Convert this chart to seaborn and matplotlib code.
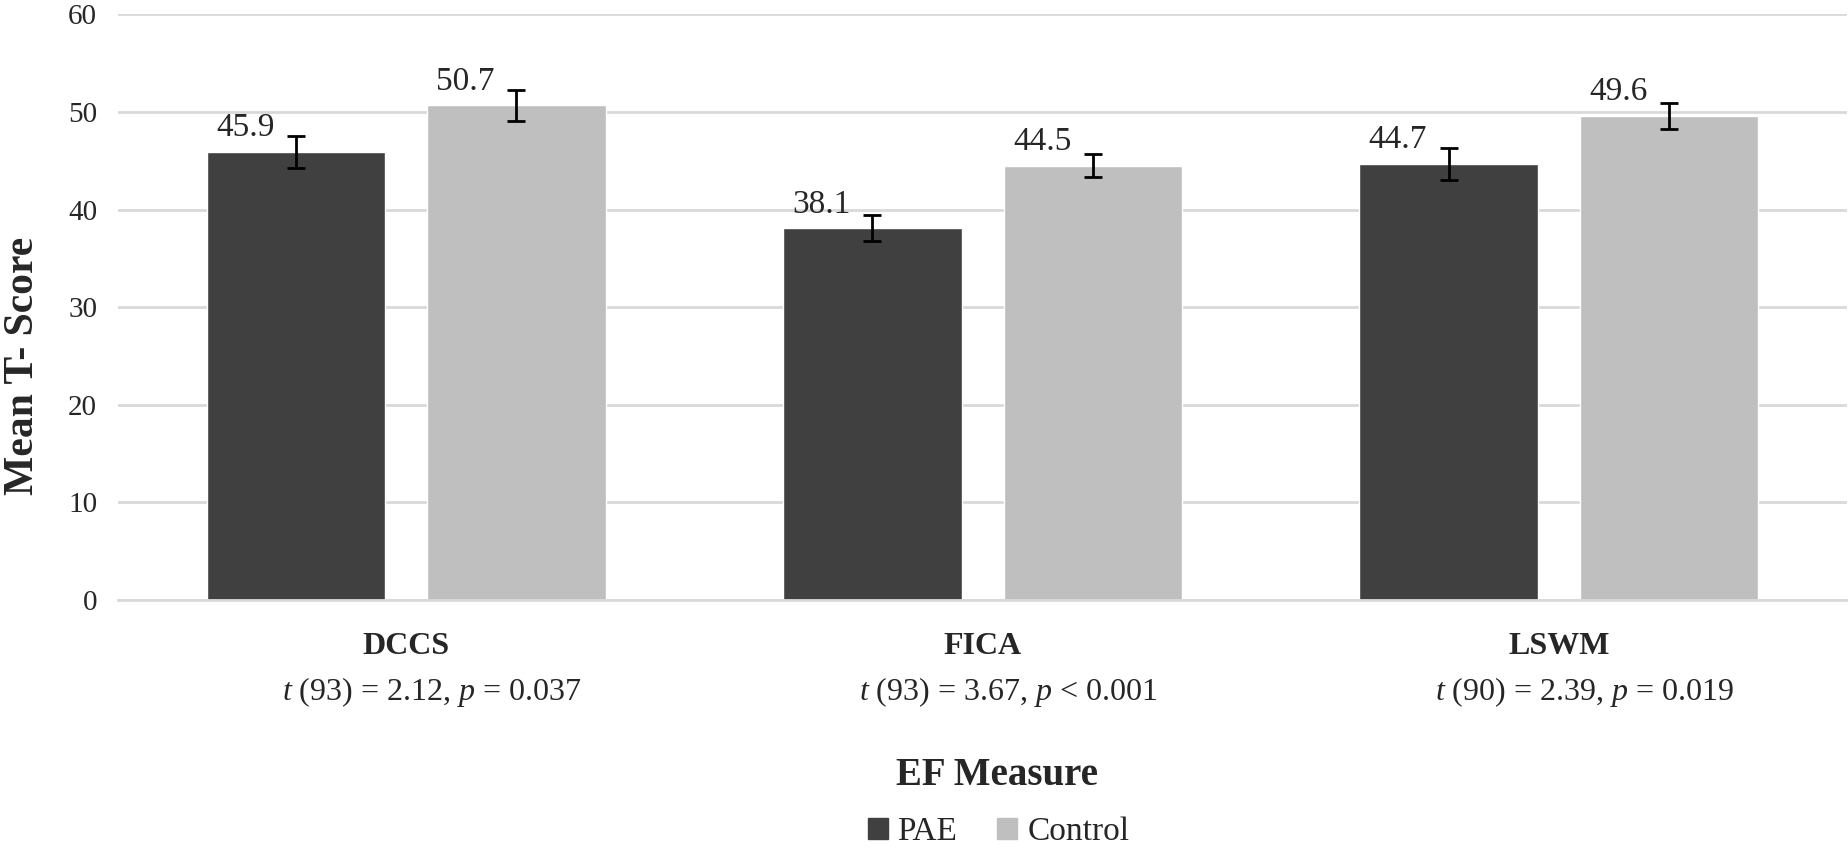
import matplotlib
matplotlib.use("Agg")
import matplotlib.pyplot as plt
import numpy as np
import pandas as pd
import seaborn as sns

# data
measures = ['DCCS', 'FICA', 'LSWM']
groups = ['PAE', 'Control']
pae_means = [45.9, 38.1, 44.7]
control_means = [50.7, 44.5, 49.6]
pae_err = [1.65, 1.3, 1.65]
control_err = [1.6, 1.2, 1.3]
t_stats = ['$t$ (93) = 2.12, $p$ = 0.037',
           '$t$ (93) = 3.67, $p$ < 0.001',
           '$t$ (90) = 2.39, $p$ = 0.019']
yticks = [0, 10, 20, 30, 40, 50, 60]

colors = {'PAE': '#404040', 'Control': '#bfbfbf'}

df = pd.DataFrame({
    'measure': measures * 2,
    'group': ['PAE'] * 3 + ['Control'] * 3,
    'score': pae_means + control_means,
    'err': pae_err + control_err,
})

sns.set_style('white')
plt.rcParams['font.family'] = ['Liberation Serif', 'DejaVu Serif']
plt.rcParams['mathtext.fontset'] = 'custom'
plt.rcParams['mathtext.rm'] = 'Liberation Serif'
plt.rcParams['mathtext.it'] = 'Liberation Serif:italic'

fig = plt.figure(figsize=(18.49, 8.48), dpi=100)
ax = fig.add_axes([0.0638, 0.2925, 0.9352, 0.6905])

sns.barplot(data=df, x='measure', y='score', hue='group', palette=colors,
            width=0.765, gap=0.19, errorbar=None, saturation=1, ax=ax,
            legend=False, zorder=2)

# error bars and value labels
for cont, g in zip(ax.containers, groups):
    sub = df[df['group'] == g]
    for bar, val, err in zip(cont, sub['score'], sub['err']):
        xc = bar.get_x() + bar.get_width() / 2
        ax.errorbar(xc, val, yerr=err, color='black', elinewidth=2,
                    capsize=6.8, capthick=2, zorder=3)
        ax.text(xc - 0.088, val + 1.6, f'{val:.1f}', ha='center', va='baseline',
                fontsize=24, zorder=4)

ax.set_ylim(0, 60)
ax.set_yticks(yticks)
ax.set_xlim(-0.5, 2.5)
ax.grid(axis='y', color='#d9d9d9', linewidth=2, zorder=0)
ax.set_axisbelow(True)
for s in ['top', 'right', 'left']:
    ax.spines[s].set_visible(False)
ax.spines['bottom'].set_color('#d9d9d9')
ax.spines['bottom'].set_linewidth(2)

ax.tick_params(axis='y', length=0, pad=15, labelsize=21)
ax.tick_params(axis='x', length=0, pad=23, labelsize=23)
ax.set_xticks(range(len(measures)))
ax.set_xticklabels(measures, fontweight='bold')

for i, s in enumerate(t_stats):
    ax.text(i + 0.045, -0.158, s, transform=ax.get_xaxis_transform(), ha='center',
            va='center', fontsize=23)

ax.set_xlabel('')
ax.set_ylabel('Mean T- Score', fontsize=30, fontweight='bold')
ax.yaxis.set_label_coords(-0.044, 0.40)

fig.text(0.539, 0.086, 'EF Measure', ha='center', va='center', fontsize=28,
         fontweight='bold')

handles = [plt.Rectangle((0, 0), 1, 1, color=colors[g]) for g in groups]
fig.legend(handles, groups, loc='center', bbox_to_anchor=(0.54, 0.019), ncol=2,
           frameon=False, fontsize=24, handlelength=0.6, handleheight=0.6,
           handletextpad=0.3, columnspacing=1.2, borderpad=0)

fig.savefig('out.png', dpi=100)
